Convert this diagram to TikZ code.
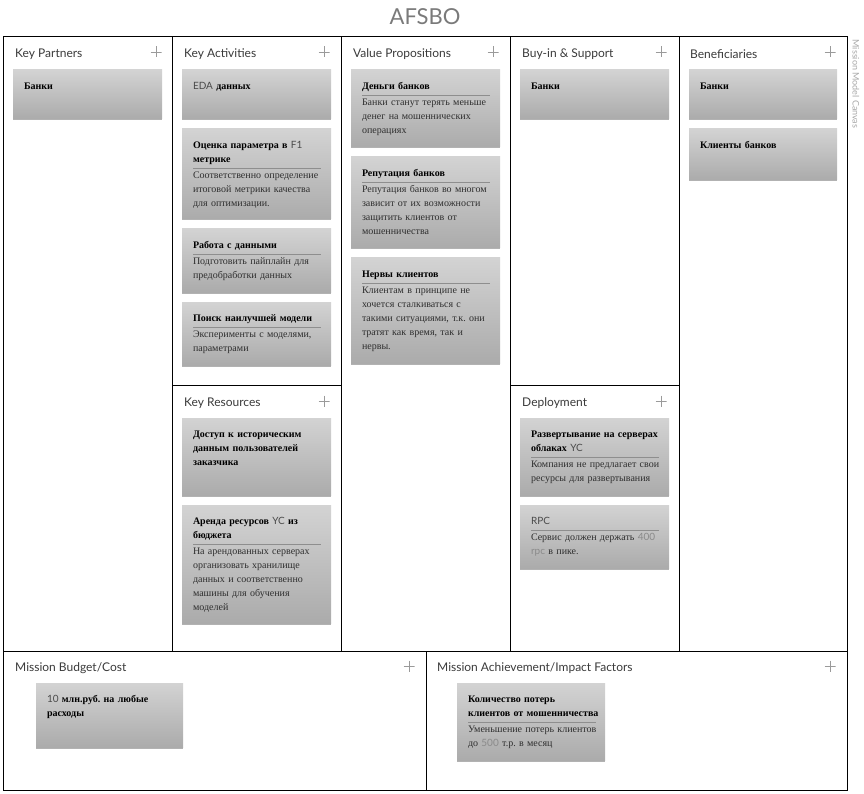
\documentclass[tikz,border=0pt]{standalone}
\usepackage{fontspec}
\setmainfont{Liberation Serif}
\newfontfamily\latofont{Lato}
\usetikzlibrary{positioning,shadows}
\setlength{\parindent}{0pt}
\frenchspacing
\definecolor{titlegray}{HTML}{7A7A7A}
\definecolor{headgray}{HTML}{3A3A3A}
\definecolor{sidegray}{HTML}{A8A8A8}
\definecolor{plusgray}{HTML}{9A9A9A}
\definecolor{cardtop}{HTML}{D3D3D3}
\definecolor{cardbottom}{HTML}{ABABAB}
\definecolor{sepgray}{HTML}{8E8E8E}
\definecolor{descgray}{HTML}{2E2E2E}
\definecolor{latdark}{HTML}{4A4A4A}
\definecolor{latlight}{HTML}{8A8A8A}
%
\newcommand{\lat}[1]{{\latofont\mdseries\color{latdark}#1}}
\newcommand{\latl}[1]{{\latofont\mdseries\color{latlight}#1}}
\newcommand{\cardhead}[1]{\textbf{\strut #1}}
\newcommand{\cardbody}[2]{\textbf{\strut #1}\strut\par\vskip 1pt{\color{sepgray}\hrule width 128pt height .6pt}\strut{\color{descgray}#2}}
%
\tikzset{
  head/.style={anchor=west, inner sep=0pt, font=\latofont\fontsize{12}{14}\selectfont, text=headgray},
  plusmark/.style={minimum size=11pt, inner sep=0pt,
    path picture={\draw[plusgray, line width=.8pt] (path picture bounding box.north) -- (path picture bounding box.south)
      (path picture bounding box.west) -- (path picture bounding box.east);}},
  card/.style={anchor=north west, inner sep=0pt, outer sep=0pt, top color=cardtop, bottom color=cardbottom,
    drop shadow={shadow xshift=0pt, shadow yshift=-1.5pt, fill=black, opacity=.3}},
  cardtext/.style={anchor=north west, inner sep=0pt, outer sep=0pt, text width=140pt, align=left,
    font=\fontsize{10}{14}\selectfont, text=black},
  panel/.style={line width=1pt, draw=black}
}
\newcommand{\Card}[6]{%
  \node[card, minimum width=#4pt, minimum height=#5pt] (#1) at (#2,#3) {};
  \node[cardtext, below right=10pt and 11pt of #1.north west] (#1Text) {#6};}
%
\begin{document}
\begin{tikzpicture}[x=1pt,y=-1pt]
%
\useasboundingbox (0,0) rectangle (864,794);
%
\node[font=\latofont\fontsize{22}{26}\selectfont, text=titlegray] (title) at (425,17) {AFSBO};
\node[rotate=-90, font=\latofont\fontsize{9}{10}\selectfont, text=sidegray] (side) at (856,84) {Mission Model Canvas};
%
% panels
\draw[panel] (3,37) rectangle (847,790);
\draw[panel] (172,37) -- (172,651) (341,37) -- (341,651) (510,37) -- (510,651) (679,37) -- (679,651);
\draw[panel] (3,651) -- (847,651) (426,651) -- (426,790);
\draw[panel] (172,385) -- (341,385) (510,385) -- (679,385);
%
% headers
\node[head] (kpHead) at (15,54) {Key Partners};
\node[head] (kaHead) at (184,54) {Key Activities};
\node[head] (vpHead) at (353,54) {Value Propositions};
\node[head] (bsHead) at (522,54) {Buy-in \& Support};
\node[head] (benHead) at (690,54) {Beneficiaries};
\node[head] (krHead) at (184,403) {Key Resources};
\node[head] (depHead) at (522,403) {Deployment};
\node[head] (mbHead) at (15,668) {Mission Budget/Cost};
\node[head] (maHead) at (437,668) {Mission Achievement/Impact Factors};
%
\node[plusmark] (kpPlus) at (156,52) {};
\node[plusmark] (kaPlus) at (324,52) {};
\node[plusmark] (vpPlus) at (493,52) {};
\node[plusmark] (bsPlus) at (661,52) {};
\node[plusmark] (benPlus) at (830,52) {};
\node[plusmark] (krPlus) at (324,401) {};
\node[plusmark] (depPlus) at (661,401) {};
\node[plusmark] (mbPlus) at (409,666) {};
\node[plusmark] (maPlus) at (830,666) {};
%
% Key Partners
\Card{kpBanks}{13}{70}{149}{49}{\cardhead{Банки}}
%
% Key Activities
\Card{kaEda}{182}{70}{149}{49}{\cardhead{\lat{EDA} данных}}
\Card{kaScore}{182}{129}{149}{90}{\cardbody{Оценка параметра в \lat{F1}\\метрике}{Соответственно определение\\итоговой метрики качества\\для оптимизации.}}
\Card{kaData}{182}{229}{149}{63}{\cardbody{Работа с данными}{Подготовить пайплайн для\\предобработки данных}}
\Card{kaModel}{182}{302}{149}{63}{\cardbody{Поиск наилучшей модели}{Эксперименты с моделями,\\параметрами}}
%
% Key Resources
\Card{krAccess}{182}{418}{149}{77}{\cardhead{Доступ к историческим\\данным пользователей\\заказчика}}
\Card{krRent}{182}{505}{149}{118}{\cardbody{Аренда ресурсов \lat{YC} из\\бюджета}{На арендованных серверах\\организовать хранилище\\данных и соответственно\\машины для обучения\\моделей}}
%
% Value Propositions
\Card{vpMoney}{351}{70}{149}{77}{\cardbody{Деньги банков}{Банки станут терять меньше\\денег на мошеннических\\операциях}}
\Card{vpRep}{351}{157}{149}{91}{\cardbody{Репутация банков}{Репутация банков во многом\\зависит от их возможности\\защитить клиентов от\\мошенничества}}
\Card{vpNerves}{351}{258}{149}{105}{\cardbody{Нервы клиентов}{Клиентам в принципе не\\хочется сталкиваться с\\такими ситуациями, т.к. они\\тратят как время, так и\\нервы.}}
%
% Buy-in & Support
\Card{bsBanks}{520}{70}{149}{49}{\cardhead{Банки}}
%
% Deployment
\Card{depServers}{520}{418}{149}{77}{\cardbody{Развертывание на серверах\\облаках \lat{YC}}{Компания не предлагает свои\\ресурсы для развертывания}}
\Card{depRpc}{520}{505}{149}{63}{\cardbody{\lat{RPC}}{Сервис должен держать \latl{400}\\\latl{rpc} в пике.}}
%
% Beneficiaries
\Card{benBanks}{689}{70}{148}{49}{\cardhead{Банки}}
\Card{benClients}{689}{129}{148}{51}{\cardhead{Клиенты банков}}
%
% Budget and Achievement
\Card{mbBudget}{36}{683}{147}{64}{\cardhead{\lat{10} млн.руб. на любые\\расходы}}
\Card{maLosses}{457}{683}{148}{77}{\cardbody{Количество потерь\\клиентов от мошенничества}{Уменьшение потерь клиентов\\до \latl{500} т.р. в месяц}}
%
\end{tikzpicture}
\end{document}
